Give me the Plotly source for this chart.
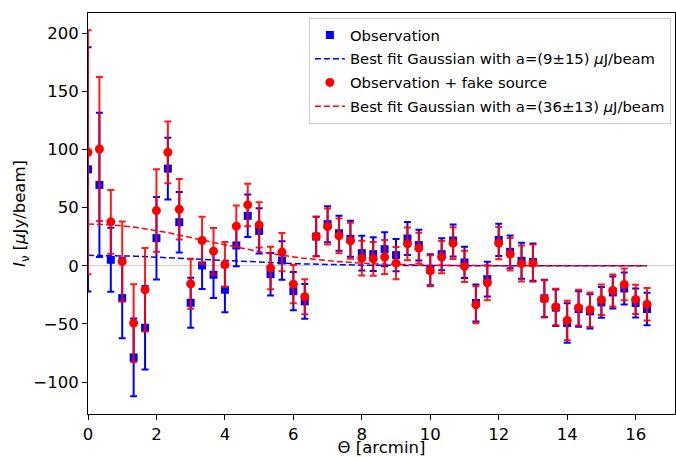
import numpy as np
import plotly.graph_objects as go

# Angular bins (arcmin): k/3 for k = 0..49
theta = [k / 3 for k in range(50)]

obs = [83, 69.6, 5.2, -27.8, -78.8, -53.3, 23.8, 83.6, 37.5, -31.8,
       0.3, -7.7, -20.6, 17.5, 43, 30, -7.2, 4.6, -21.8, -30.6,
       25.2, 35.8, 28, 23.2, 10.9, 10, 14.3, 9.2, 23.5, 17.8,
       -3.4, 10, 21.8, 2.9, -32, -11.5, 22.3, 12, 4.3, 3.2,
       -28, -36, -49.3, -37.2, -39.2, -31.5, -22.9, -19.5, -32, -37.2]

fake = [97.7, 100.5, 37.8, 3.7, -49.3, -20.6, 47.5, 97.6, 48.7, -15.5,
        21.8, 12.6, 1.1, 34.1, 52.4, 35.2, -1.8, 11.8, -15.8, -26.6,
        25.2, 33.8, 25.8, 21.5, 6.6, 6, 7.5, 2.3, 18.9, 15.2,
        -4.3, 7.5, 19.5, -0.5, -33.5, -14.6, 19.5, 10, 2, 2.3,
        -28.4, -35.5, -47, -36, -37.8, -29.2, -21.2, -16, -28.9, -33]

err = [105, 62, 27.5, 34.5, 33.5, 36, 35.5, 26.5, 26, 21.5,
       20.3, 20, 19.3, 17.8, 18.3, 19.5, 18.3, 16.5, 16.5, 15,
       17, 15.5, 15, 15.5, 15, 14.5, 14.6, 13.8, 14.1, 13.3,
       13.3, 13.8, 13.7, 13.5, 16, 15, 13.8, 14, 15.5, 16,
       16, 15.7, 17, 15.3, 14.8, 13.2, 13.8, 13.7, 12.5, 14]

# Best-fit Gaussian parameters (amplitudes from legend, width of beam)
a_obs = 9
a_fake = 36
sigma = 3.4

xfit = np.linspace(0, theta[-1], 300)
fit_obs = a_obs * np.exp(-xfit**2 / (2 * sigma**2))
fit_fake = a_fake * np.exp(-xfit**2 / (2 * sigma**2))

FONT = "DejaVu Sans"

fig = go.Figure()
fig.add_trace(go.Scatter(
    x=theta, y=obs, mode="markers", name="Observation", legendgroup="a",
    marker=dict(symbol="square", size=8, color="#0000ff"),
    error_y=dict(type="data", array=err, visible=True,
                 color="#0000ff", thickness=2, width=3.5),
))
fig.add_trace(go.Scatter(
    x=xfit, y=fit_obs, mode="lines", legendgroup="b",
    name="Best fit Gaussian with a=(9±15) <i>μ</i>J/beam",
    line=dict(color="#0000ff", width=1.5, dash="6px,3px"),
))
fig.add_trace(go.Scatter(
    x=theta, y=fake, mode="markers", name="Observation + fake source", legendgroup="c",
    marker=dict(symbol="circle", size=9, color="#ff0000"),
    error_y=dict(type="data", array=err, visible=True,
                 color="rgba(255,0,0,0.9)", thickness=2, width=3.5),
))
fig.add_trace(go.Scatter(
    x=xfit, y=fit_fake, mode="lines", legendgroup="d",
    name="Best fit Gaussian with a=(36±13) <i>μ</i>J/beam",
    line=dict(color="#ff0000", width=1.5, dash="6px,3px"),
))

fig.update_layout(
    width=676, height=457,
    margin=dict(l=88, r=1, t=13, b=43, autoexpand=False),
    paper_bgcolor="white", plot_bgcolor="white",
    font=dict(family=FONT, size=16, color="black"),
    legend=dict(x=0.993, y=0.988, xanchor="right", yanchor="top",
                bgcolor="rgba(255,255,255,0.8)", bordercolor="#cccccc",
                borderwidth=1, font=dict(size=14.8, family=FONT),
                tracegroupgap=1.5, itemwidth=30, traceorder="grouped"),
    showlegend=True,
)
fig.update_xaxes(
    range=[0, 17.15], tickvals=[0, 2, 4, 6, 8, 10, 12, 14, 16],
    showgrid=False, zeroline=False, automargin=False,
    showline=True, linecolor="black", linewidth=1, mirror=True,
    ticks="outside", ticklen=5, tickwidth=1, tickcolor="black",
    tickfont=dict(size=16.5),
    title=dict(text="Θ [arcmin]", font=dict(size=16.5), standoff=5),
)
fig.update_yaxes(
    range=[-127.5, 217.5], tickvals=[-100, -50, 0, 50, 100, 150, 200],
    showgrid=False, zeroline=True, zerolinecolor="#cccccc", zerolinewidth=1,
    automargin=False,
    showline=True, linecolor="black", linewidth=1, mirror=True,
    ticks="outside", ticklen=5, tickwidth=1, tickcolor="black",
    tickfont=dict(size=16.5),
    title=dict(text="<i>I</i><sub>ν</sub> [<i>μ</i>Jy/beam]", font=dict(size=16.5), standoff=3),
)

fig.write_html("out.html", config={"displayModeBar": False},
               post_script="document.body.style.margin='0';document.body.style.overflow='hidden';")
